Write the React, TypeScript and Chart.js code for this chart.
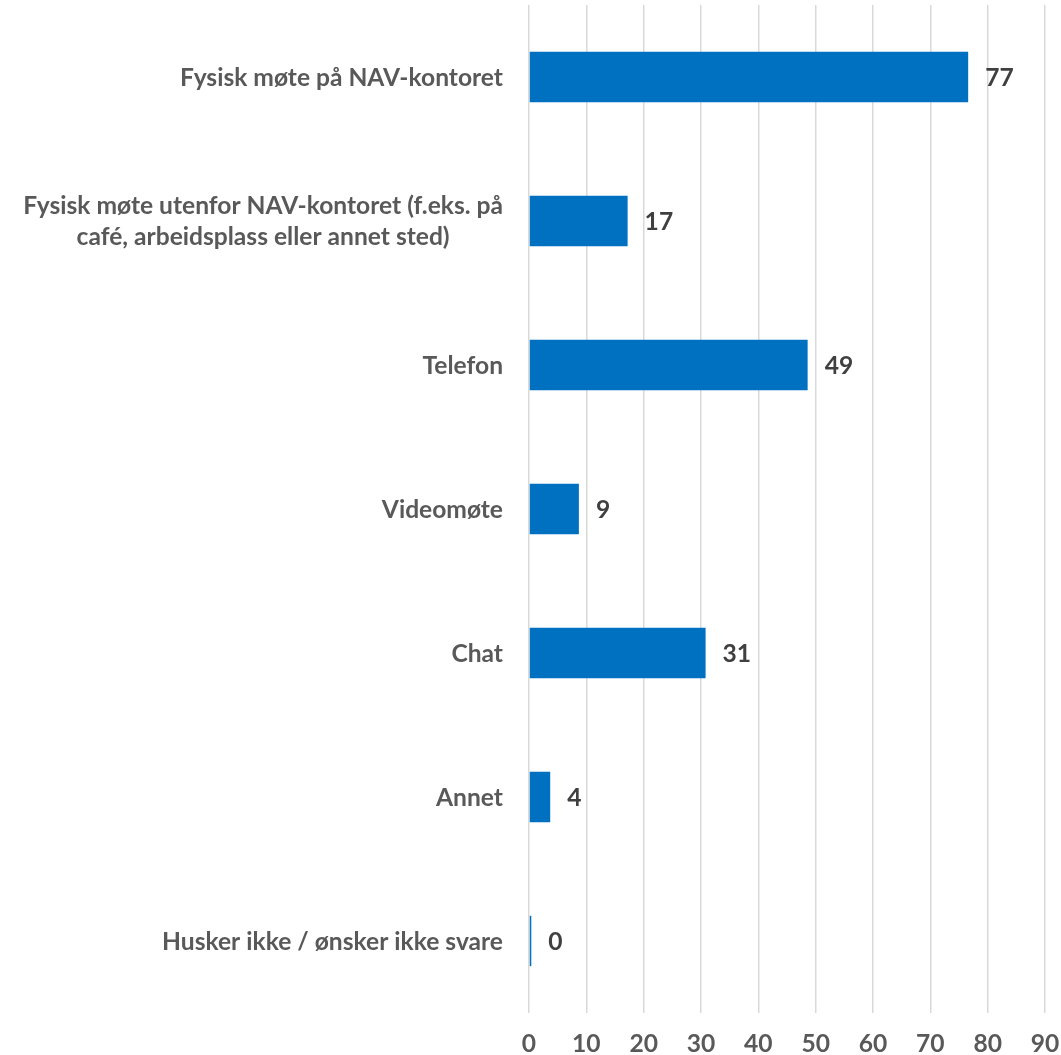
import React, { useEffect, useRef } from "react";
import { Chart, registerables } from "chart.js";

Chart.register(...registerables);

const categories: string[][] = [
  ["Fysisk møte på NAV-kontoret"],
  ["Fysisk møte utenfor NAV-kontoret (f.eks. på", "café, arbeidsplass eller annet sted)"],
  ["Telefon"],
  ["Videomøte"],
  ["Chat"],
  ["Annet"],
  ["Husker ikke / ønsker ikke svare"],
];
const values: number[] = [76.6, 17.2, 48.6, 8.7, 30.8, 3.7, 0.4];
const valueLabels: string[] = ["77", "17", "49", "9", "31", "4", "0"];
const xTicks: number[] = [0, 10, 20, 30, 40, 50, 60, 70, 80, 90];

const FONT = "Lato, 'Noto Sans', sans-serif";
const FS = 24.6;

export default function App() {
  const ref = useRef<HTMLCanvasElement | null>(null);
  useEffect(() => {
    if (!ref.current) return;
    const labelPlugin = {
      id: "customLabels",
      afterDatasetsDraw(chart: any) {
        const ctx = chart.ctx;
        const meta = chart.getDatasetMeta(0);
        const yScale = chart.scales.y;
        const xScale = chart.scales.x;
        ctx.save();
        ctx.font = `bold ${FS}px ${FONT}`;
        ctx.textBaseline = "middle";
        // value labels
        ctx.fillStyle = "#404040";
        ctx.textAlign = "left";
        meta.data.forEach((bar: any, i: number) => {
          ctx.fillText(valueLabels[i], bar.x + 17, bar.y + 1);
        });
        // category labels
        ctx.fillStyle = "#595959";
        ctx.textAlign = "center";
        const rightEdge = 503;
        const lineH = 31;
        categories.forEach((lines, i) => {
          const y = yScale.getPixelForValue(i);
          const w = Math.max(...lines.map((l) => ctx.measureText(l).width));
          const cx = rightEdge - w / 2;
          const y0 = y - ((lines.length - 1) * lineH) / 2;
          lines.forEach((l, k) => ctx.fillText(l, cx, y0 + k * lineH + 1));
        });
        // x tick labels
        const ty = chart.chartArea.bottom + 31;
        xTicks.forEach((v) => {
          ctx.fillText(String(v), xScale.getPixelForValue(v), ty);
        });
        ctx.restore();
      },
    };
    const chart = new Chart(ref.current, {
      type: "bar",
      data: {
        labels: categories.map((c) => c.join(" ")),
        datasets: [
          {
            data: values,
            backgroundColor: "#0070C0",
            borderWidth: 0,
            barPercentage: 0.35,
            categoryPercentage: 1,
          },
        ],
      },
      options: {
        indexAxis: "y",
        animation: false,
        responsive: false,
        layout: { padding: { top: 5, right: 16, left: 0, bottom: 0 } },
        plugins: { legend: { display: false }, tooltip: { enabled: false } },
        scales: {
          x: {
            min: 0,
            max: 90,
            afterBuildTicks(scale: any) {
              scale.ticks = xTicks.map((v) => ({ value: v }));
            },
            afterFit(scale: any) {
              scale.height = 42;
            },
            grid: { color: "#d9d9d9", lineWidth: 1.5, drawTicks: false },
            border: { display: false },
            ticks: { display: false },
          },
          y: {
            afterFit(scale: any) {
              scale.width = 529;
            },
            grid: { display: false },
            border: { display: false },
            ticks: { display: false },
          },
        },
      },
      plugins: [labelPlugin],
    });
    return () => chart.destroy();
  }, []);
  return (
    <div style={{ position: "fixed", left: 0, top: 0, width: 1061, height: 1055, background: "#fff" }}>
      <canvas ref={ref} width={1061} height={1055} style={{ display: "block" }} />
    </div>
  );
}
